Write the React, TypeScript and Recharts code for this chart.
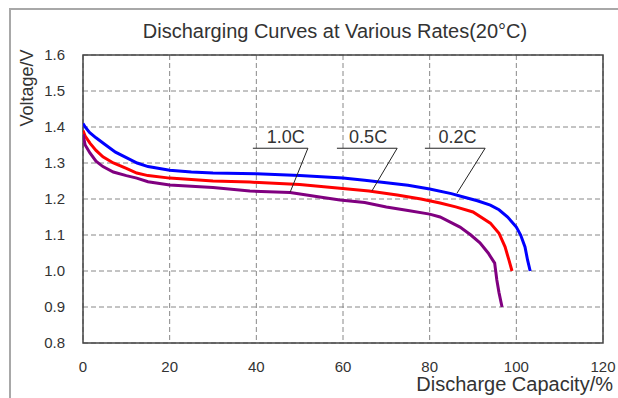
import React from "react";
import {
  CartesianGrid,
  Line,
  LineChart,
  ReferenceArea,
  ReferenceDot,
  ReferenceLine,
  XAxis,
  YAxis,
} from "recharts";

// discharge capacity (%) vs cell voltage (V) for each rate
const capacityTicks = [0, 20, 40, 60, 80, 100, 120];
const voltageTicks = [0.8, 0.9, 1.0, 1.1, 1.2, 1.3, 1.4, 1.5, 1.6];

const cap02C = [0, 0.5, 1.5, 3, 5, 7.5, 10, 12.5, 15, 20, 25, 30, 40, 50, 60, 65, 70, 75, 80, 85, 88, 91, 94, 96, 98, 100, 101, 102, 102.6, 103.2];
const volt02C = [1.41, 1.4, 1.385, 1.37, 1.352, 1.33, 1.315, 1.3, 1.29, 1.28, 1.275, 1.272, 1.27, 1.265, 1.258, 1.252, 1.245, 1.238, 1.228, 1.215, 1.205, 1.195, 1.183, 1.17, 1.15, 1.122, 1.1, 1.067, 1.03, 1.0];

const cap05C = [0, 0.5, 1.6, 3, 4.6, 7, 10, 12.4, 15, 20, 30, 38.5, 50, 59.3, 66, 72.5, 78, 82.4, 86, 90, 94, 96, 97.4, 98.3, 99];
const volt05C = [1.39, 1.375, 1.355, 1.335, 1.317, 1.3, 1.285, 1.272, 1.265, 1.258, 1.25, 1.247, 1.24, 1.23, 1.222, 1.211, 1.2, 1.189, 1.178, 1.164, 1.133, 1.105, 1.067, 1.03, 1.0];

const cap10C = [0, 0.5, 1.6, 3, 4.6, 7, 10, 12.4, 15, 20, 30, 38.5, 47.8, 55, 59.3, 65, 70, 75, 80, 82.4, 87, 89.5, 91.6, 93.5, 95, 95.5, 96, 96.7];
const volt10C = [1.38, 1.35, 1.328, 1.305, 1.29, 1.275, 1.265, 1.258, 1.248, 1.239, 1.232, 1.222, 1.218, 1.205, 1.197, 1.19, 1.178, 1.168, 1.158, 1.15, 1.122, 1.1, 1.078, 1.05, 1.022, 0.975, 0.94, 0.9];

const zip = (cap: number[], volt: number[]) => cap.map((c, i) => ({ cap: c, volt: volt[i] }));

const series = [
  { name: "0.2C", data: zip(cap02C, volt02C), color: "#0000ff" },
  { name: "0.5C", data: zip(cap05C, volt05C), color: "#ff0000" },
  { name: "1.0C", data: zip(cap10C, volt10C), color: "#800080" },
];

// callouts: text anchor, shelf line and pointer tip (data units)
const callouts = [
  { text: "1.0C", tx: 46.8, ty: 1.374, x1: 39.2, x2: 51.9, shelf: 1.341, tipX: 47.8, tipY: 1.219 },
  { text: "0.5C", tx: 65.8, ty: 1.374, x1: 58.6, x2: 72.5, shelf: 1.341, tipX: 66.7, tipY: 1.223 },
  { text: "0.2C", tx: 86.4, ty: 1.374, x1: 78.9, x2: 92.8, shelf: 1.341, tipX: 86.3, tipY: 1.216 },
];

const font = "'Liberation Sans', Arial, sans-serif";
const ink = "#333";

export default function App() {
  return (
    <div
      style={{
        position: "absolute",
        left: 0,
        top: 0,
        width: 618,
        height: 398,
        overflow: "hidden",
        background: "#fff",
        fontFamily: font,
      }}
    >
      <div
        style={{
          position: "absolute",
          left: 9,
          top: 8,
          width: 700,
          height: 500,
          border: "2px solid #a8a8a8",
        }}
      />
      <div
        style={{
          position: "absolute",
          left: 135,
          top: 20,
          width: 400,
          textAlign: "center",
          fontSize: 20,
          color: ink,
          whiteSpace: "nowrap",
        }}
      >
        Discharging Curves at Various Rates(20°C)
      </div>
      <div
        style={{
          position: "absolute",
          left: 27,
          top: 88,
          transform: "translate(-50%, -50%) rotate(-90deg)",
          fontSize: 18,
          color: ink,
          whiteSpace: "nowrap",
        }}
      >
        Voltage/V
      </div>
      <div
        style={{
          position: "absolute",
          right: 5,
          top: 374,
          fontSize: 20,
          lineHeight: "20px",
          color: ink,
          whiteSpace: "nowrap",
        }}
      >
        Discharge Capacity/%
      </div>
      <div style={{ position: "absolute", left: 0, top: 0 }}>
        <LineChart
          width={618}
          height={398}
          margin={{ top: 55, right: 15, bottom: 25, left: 23 }}
        >
          <CartesianGrid stroke="#888" strokeDasharray="5 3" />
          <XAxis
            type="number"
            dataKey="cap"
            domain={[0, 120]}
            ticks={capacityTicks}
            height={30}
            tickSize={0}
            tickMargin={18}
            axisLine={false}
            tick={{ fill: ink, fontSize: 15, fontFamily: font }}
            allowDataOverflow
          />
          <YAxis
            type="number"
            dataKey="volt"
            domain={[0.8, 1.6]}
            ticks={voltageTicks}
            width={60}
            tickSize={0}
            tickMargin={18}
            axisLine={false}
            tickFormatter={(v: number) => v.toFixed(1)}
            tick={{ fill: ink, fontSize: 15, fontFamily: font }}
            allowDataOverflow
          />
          <ReferenceArea
            x1={0}
            x2={120}
            y1={0.8}
            y2={1.6}
            fill="none"
            stroke="#444"
            strokeWidth={1.5}
          />
          {series.map((s) => (
            <Line
              key={s.name}
              data={s.data}
              dataKey="volt"
              name={s.name}
              type="linear"
              stroke={s.color}
              strokeWidth={3}
              dot={false}
              isAnimationActive={false}
            />
          ))}
          {callouts.map((c) => (
            <ReferenceLine
              key={c.text + "-shelf"}
              segment={[
                { x: c.x1, y: c.shelf },
                { x: c.x2, y: c.shelf },
              ]}
              stroke="#222"
              strokeWidth={1}
            />
          ))}
          {callouts.map((c) => (
            <ReferenceLine
              key={c.text + "-pointer"}
              segment={[
                { x: c.x2, y: c.shelf },
                { x: c.tipX, y: c.tipY },
              ]}
              stroke="#222"
              strokeWidth={1}
            />
          ))}
          {callouts.map((c) => (
            <ReferenceDot
              key={c.text}
              x={c.tx}
              y={c.ty}
              r={0}
              fill="none"
              stroke="none"
              label={{
                value: c.text,
                position: "center",
                fill: ink,
                fontSize: 18,
                fontFamily: font,
              }}
            />
          ))}
        </LineChart>
      </div>
    </div>
  );
}
